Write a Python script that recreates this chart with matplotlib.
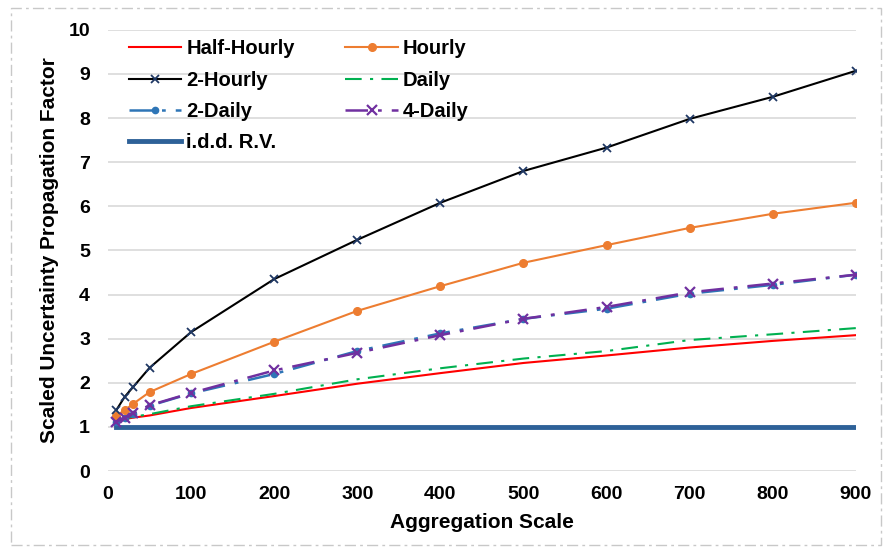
import matplotlib.pyplot as plt
from matplotlib.patches import Rectangle

plt.rcParams['font.family'] = ['Liberation Sans', 'DejaVu Sans']

# aggregation scales and scaled uncertainty propagation factors
scale = [10, 20, 30, 50, 100, 200, 300, 400, 500, 600, 700, 800, 900]
half_hourly = [1.15, 1.18, 1.21, 1.26, 1.43, 1.70, 1.98, 2.22, 2.45, 2.62, 2.80, 2.95, 3.08]
hourly = [1.25, 1.38, 1.52, 1.79, 2.20, 2.93, 3.63, 4.19, 4.72, 5.12, 5.51, 5.83, 6.08]
two_hourly = [1.38, 1.68, 1.90, 2.34, 3.15, 4.35, 5.24, 6.08, 6.80, 7.33, 7.98, 8.48, 9.07]
daily = [1.15, 1.19, 1.23, 1.29, 1.47, 1.75, 2.08, 2.33, 2.55, 2.72, 2.97, 3.10, 3.24]
two_daily = [1.12, 1.20, 1.30, 1.48, 1.76, 2.20, 2.72, 3.12, 3.45, 3.68, 4.02, 4.22, 4.45]
four_daily = [1.12, 1.21, 1.31, 1.49, 1.77, 2.28, 2.68, 3.08, 3.45, 3.72, 4.05, 4.25, 4.45]
idd = [1.0] * len(scale)

fig = plt.figure(figsize=(8.85, 5.51), dpi=100)
ax = fig.add_axes([0.122, 0.145, 0.845, 0.801])

# dashed frame around the whole chart
fig.patches.append(Rectangle((0.012, 0.01), 0.984, 0.975, transform=fig.transFigure,
                             fill=False, ec='#c8c8c8', lw=1, ls=(0, (8, 3, 2, 3))))

ax.plot(scale, idd, color='#2e6198', lw=3.5, label='i.d.d. R.V.', zorder=2)
ax.plot(scale, half_hourly, color='#ff0000', lw=1.5, label='Half-Hourly', zorder=3)
ax.plot(scale, daily, color='#00b050', lw=1.5, ls=(0, (8, 4, 1.5, 4)), label='Daily', zorder=3)
ax.plot(scale, two_daily, color='#2e75b6', lw=1.8, ls=(0, (9, 4, 1.5, 4)), marker='o',
        ms=4.5, label='2-Daily', zorder=4)
ax.plot(scale, four_daily, color='#7030a0', lw=1.8, ls=(0, (9, 4, 1.5, 4)), marker='x',
        ms=6.5, mew=1.6, label='4-Daily', zorder=5)
ax.plot(scale, hourly, color='#ed7d31', lw=1.5, marker='o', ms=5.5, label='Hourly', zorder=4)
ax.plot(scale, two_hourly, color='black', lw=1.5, marker='x', ms=6, mew=1.3,
        mec='#1f3864', label='2-Hourly', zorder=4)

ax.set_xlim(0, 900)
ax.set_ylim(0, 10)
ax.set_xticks(range(0, 901, 100))
ax.set_yticks(range(0, 11))
ax.grid(axis='y', color='#d9d9d9', lw=1.2)
ax.set_axisbelow(True)
for s in ax.spines.values():
    s.set_visible(False)
ax.tick_params(length=0, labelsize=14)
ax.tick_params(axis='x', pad=11)
ax.tick_params(axis='y', pad=13)
for lab in ax.get_xticklabels() + ax.get_yticklabels():
    lab.set_fontweight('bold')

ax.set_xlabel('Aggregation Scale', fontsize=15, fontweight='bold', labelpad=7)
ax.set_ylabel('Scaled Uncertainty Propagation Factor', fontsize=15, fontweight='bold', labelpad=7)

h, l = ax.get_legend_handles_labels()
d = dict(zip(l, h))
order = ['Half-Hourly', '2-Hourly', '2-Daily', 'i.d.d. R.V.', 'Hourly', 'Daily', '4-Daily']
ax.legend([d[k] for k in order], order, ncol=2, loc='upper left', bbox_to_anchor=(0.004, 1.019),
          frameon=False, prop={'weight': 'bold', 'size': 14.5}, handlelength=2.6,
          columnspacing=2.5, labelspacing=0.6, handletextpad=0.25)

fig.savefig('out.png', dpi=100)
